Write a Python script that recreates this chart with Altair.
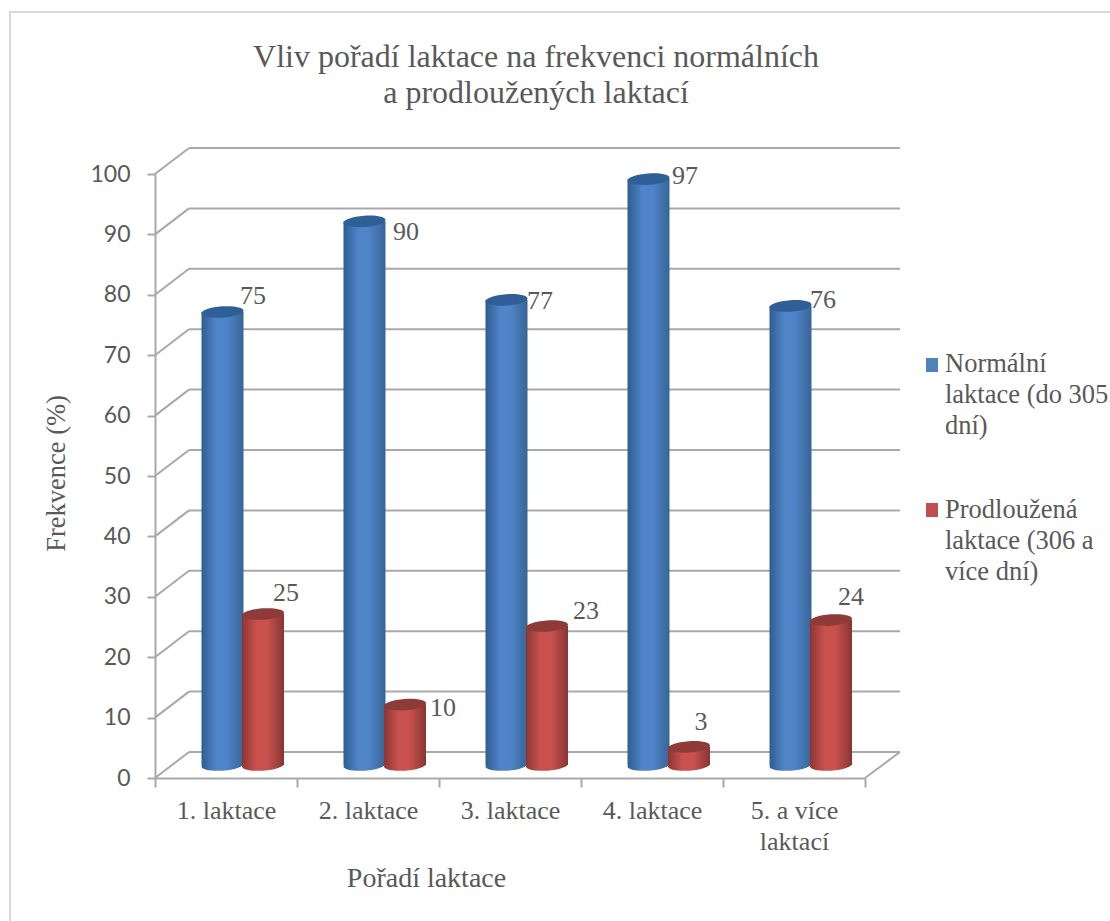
import altair as alt
import pandas as pd

# Frequencies of normal and prolonged lactations by lactation order
categories = ["1. laktace", "2. laktace", "3. laktace", "4. laktace", "5. a více laktací"]
normal = [75, 90, 77, 97, 76]
prolonged = [25, 10, 23, 3, 24]
y_ticks = list(range(0, 101, 10))

normal_name = "Normální\nlaktace (do 305\ndní)"
prolonged_name = "Prodloužená\nlaktace (306 a\nvíce dní)"

FONT = "Liberation Serif"
TEXT = "#595959"
LINE = "#a9a9a9"
DEPTH_X, DEPTH_Y = 34, -26
PLOT_W, PLOT_H = 710, 604

# Hand-placed value labels: pixel nudges from the centre of each category and value
normal_nudge = [(27, -29), (38, -2), (30, -12), (33, -16), (29, -19)]
prolonged_nudge = [(60, -34), (75, -10), (76, -28), (49, -38), (57, -36)]

y_scale = alt.Scale(domain=[0, 100], nice=False)

x = alt.X(
    "category:N",
    sort=categories,
    scale=alt.Scale(domain=categories, paddingInner=0, paddingOuter=0),
    axis=alt.Axis(
        title="Pořadí laktace",
        titleFont=FONT, titleFontSize=28, titleFontWeight="normal", titleColor=TEXT,
        titleX=271, titleY=86,
        labelFont=FONT, labelFontSize=26, labelColor=TEXT, labelAngle=0,
        labelPadding=10, labelLineHeight=31,
        labelExpr="datum.value == '5. a více laktací' ? ['5. a více', 'laktací'] : datum.value",
        domainColor=LINE, domainWidth=2, tickColor=LINE, tickWidth=2, tickSize=9,
        tickBand="extent", grid=False,
    ),
)
y_axis = alt.Axis(
    title="Frekvence (%)",
    titleFont=FONT, titleFontSize=26.5, titleFontWeight="normal", titleColor=TEXT,
    titleX=-85, titleY=299,
    labelFont="Lato", labelFontSize=23, labelColor=TEXT,
    labelPadding=17, values=y_ticks,
    domainColor=LINE, domainWidth=2, tickColor=LINE, tickWidth=2, tickSize=8,
    grid=False,
)
y = alt.Y("value:Q", scale=y_scale, axis=y_axis)
y_base = alt.Y("base:Q", scale=y_scale, axis=y_axis)


def cylinder_gradient(edge_left, mid, edge_right):
    return alt.LinearGradient(
        gradient="linear", x1=0, x2=1, y1=0, y2=0,
        stops=[
            alt.GradientStop(offset=0, color=edge_left),
            alt.GradientStop(offset=0.35, color=mid),
            alt.GradientStop(offset=0.6, color=mid),
            alt.GradientStop(offset=1, color=edge_right),
        ],
    )


ELLIPSE = "M-1,0.07 A1,0.27,-4,0,1,1,-0.07 A1,0.27,-4,0,1,-1,0.07 Z"


def cylinders(values, x_shift, gradient, cap_color):
    frame = pd.DataFrame({"category": categories, "value": values, "base": [0] * len(values)})
    base = alt.Chart(frame)
    bottom = base.mark_point(
        shape=ELLIPSE, size=1764, filled=True, opacity=1, strokeWidth=0,
        fill=gradient, xOffset=x_shift, yOffset=DEPTH_Y / 2,
    ).encode(x=x, y=y_base)
    body = base.mark_bar(
        size=42, fill=gradient, xOffset=x_shift, x2Offset=x_shift,
        yOffset=DEPTH_Y / 2, y2Offset=DEPTH_Y / 2,
    ).encode(x=x, y=y)
    top = base.mark_point(
        shape=ELLIPSE, size=1764, filled=True, opacity=1, strokeWidth=0,
        fill=cap_color, xOffset=x_shift, yOffset=DEPTH_Y / 2,
    ).encode(x=x, y=y)
    return bottom + body + top


def value_labels(values, nudges):
    layers = []
    for cat, val, (dx, dy) in zip(categories, values, nudges):
        row = pd.DataFrame({"category": [cat], "value": [val]})
        layers.append(
            alt.Chart(row)
            .mark_text(font=FONT, fontSize=26, color=TEXT, dx=dx, dy=dy, baseline="middle")
            .encode(x=x, y=y, text=alt.Text("value:Q"))
        )
    return alt.layer(*layers)


grid_data = alt.Data(values=[{"value": v} for v in y_ticks])

axes = alt.Chart(pd.DataFrame({"category": categories, "value": normal})).mark_point(opacity=0).encode(x=x, y=y)

back_lines = alt.Chart(grid_data).mark_rule(
    color=LINE, strokeWidth=2, yOffset=DEPTH_Y
).encode(y=y, x=alt.value(DEPTH_X), x2=alt.value(PLOT_W + DEPTH_X + 1))

side_lines = alt.Chart(grid_data).mark_rule(
    color=LINE, strokeWidth=2, y2Offset=DEPTH_Y
).encode(y=y, y2=alt.Y2("value:Q"), x=alt.value(0), x2=alt.value(DEPTH_X))

floor_side = alt.Chart(alt.Data(values=[{"value": 0}])).mark_rule(
    color=LINE, strokeWidth=2, y2Offset=DEPTH_Y
).encode(y=y, y2=alt.Y2("value:Q"), x=alt.value(PLOT_W), x2=alt.value(PLOT_W + DEPTH_X + 1))

# The outer chart frame runs off the right and bottom of the page
frame_left = alt.Chart(alt.Data(values=[{}])).mark_rule(color="#d9d9d9", strokeWidth=2).encode(
    x=alt.value(-145), y=alt.value(-162), y2=alt.value(760))
frame_top = alt.Chart(alt.Data(values=[{}])).mark_rule(color="#d9d9d9", strokeWidth=2).encode(
    y=alt.value(-162), x=alt.value(-146), x2=alt.value(960))

blue = cylinder_gradient("#2f5d90", "#4f84c8", "#386597")
red = cylinder_gradient("#8b3634", "#c9524f", "#883533")

legend_rows = [
    (normal_name, "#4f81bd", 184, 198),
    (prolonged_name, "#c0504d", 329, 344),
]
legend_layers = []
for name, colour, top_px, base_px in legend_rows:
    row = alt.Data(values=[{"name": name}])
    legend_layers.append(
        alt.Chart(row).mark_rect(fill=colour).encode(
            x=alt.value(771), x2=alt.value(783), y=alt.value(top_px), y2=alt.value(top_px + 14))
    )
    legend_layers.append(
        alt.Chart(row).mark_text(
            font=FONT, fontSize=26.5, color=TEXT, align="left", baseline="alphabetic",
            lineBreak="\n", lineHeight=31,
        ).encode(x=alt.value(790), y=alt.value(base_px), text="name:N")
    )

chart = alt.layer(
    axes, frame_left, frame_top, back_lines, side_lines, floor_side,
    cylinders(normal, -3.5, blue, "#2f5f96"),
    cylinders(prolonged, 37, red, "#8e3a38"),
    value_labels(normal, normal_nudge),
    value_labels(prolonged, prolonged_nudge),
    *legend_layers,
).properties(
    width=PLOT_W,
    height=PLOT_H,
    padding={"left": 155, "top": 174, "right": 245, "bottom": 143},
    autosize=alt.AutoSizeParams(type="none"),
    background="white",
    title=alt.TitleParams(
        text=["Vliv pořadí laktace na frekvenci normálních", "a prodloužených laktací"],
        font=FONT, fontSize=32, fontWeight="normal", color=TEXT,
        lineHeight=36, anchor="middle", dx=26, offset=-99,
    ),
).configure_view(stroke=None)

chart.save("out.html", embed_options={"renderer": "svg", "actions": False})
